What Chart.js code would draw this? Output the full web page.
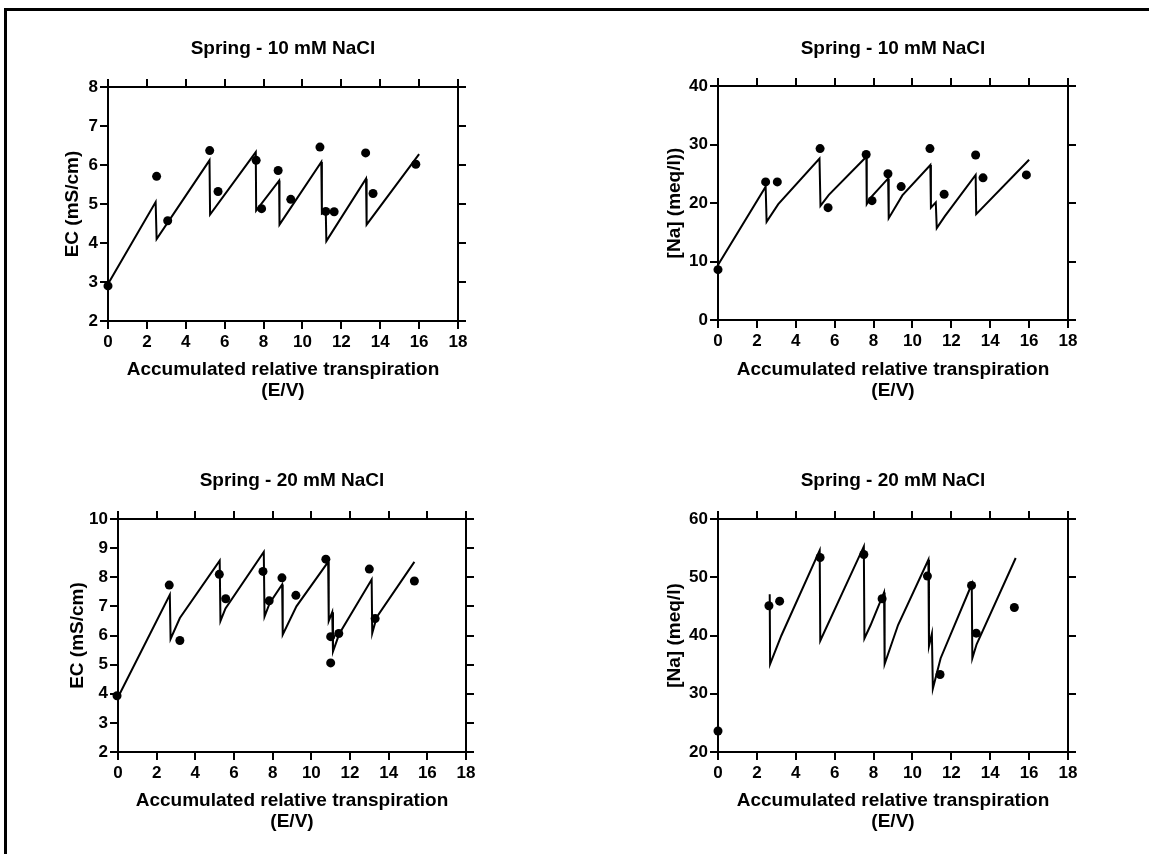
<!DOCTYPE html>
<html>
<head>
<meta charset="utf-8">
<script src="https://cdn.jsdelivr.net/npm/chart.js@4.4.1/dist/chart.umd.min.js"></script>
<style>
  html,body{margin:0;padding:0;background:#fff;}
  body{width:1149px;height:854px;position:relative;overflow:hidden;}
  .frame{position:absolute;left:4px;top:8px;right:0;bottom:0;border-top:3px solid #000;border-left:3px solid #000;}
  .panel{position:absolute;width:574px;height:427px;}
</style>
</head>
<body>
<div class="frame"></div>
<div class="panel" style="left:0;top:0"><canvas id="ec10"></canvas></div>
<div class="panel" style="left:575px;top:0"><canvas id="na10"></canvas></div>
<div class="panel" style="left:0;top:427px"><canvas id="ec20"></canvas></div>
<div class="panel" style="left:575px;top:427px"><canvas id="na20"></canvas></div>
<script>
// tick values
const xTicks = [0, 2, 4, 6, 8, 10, 12, 14, 16, 18];
const ecTicks10 = [2, 3, 4, 5, 6, 7, 8];
const naTicks10 = [0, 10, 20, 30, 40];
const ecTicks20 = [2, 3, 4, 5, 6, 7, 8, 9, 10];
const naTicks20 = [20, 30, 40, 50, 60];

// Spring - 10 mM NaCl : EC
const ec10LineX = [0, 2.45, 2.5, 5.22, 5.25, 7.6, 7.62, 8.8, 8.82, 10.97, 11.0, 11.2, 11.23, 13.27, 13.3, 16.0];
const ec10LineY = [2.95, 5.05, 4.1, 6.12, 4.73, 6.33, 4.83, 5.6, 4.47, 6.08, 4.75, 4.8, 4.05, 5.65, 4.47, 6.28];
const ec10PtsX = [0, 2.5, 3.07, 5.23, 5.66, 7.62, 7.9, 8.75, 9.4, 10.9, 11.2, 11.63, 13.25, 13.63, 15.83];
const ec10PtsY = [2.9, 5.71, 4.57, 6.37, 5.32, 6.12, 4.88, 5.86, 5.12, 6.46, 4.81, 4.8, 6.31, 5.27, 6.02];

// Spring - 10 mM NaCl : [Na]
const na10LineX = [0, 2.45, 2.5, 3.1, 5.22, 5.27, 5.7, 7.63, 7.65, 7.9, 8.75, 8.78, 9.48, 10.92, 10.95, 11.2, 11.25, 11.66, 13.25, 13.28, 16.0];
const na10LineY = [9.4, 22.8, 16.8, 19.8, 27.6, 19.5, 21.4, 27.9, 19.8, 21.1, 24.2, 17.4, 21.3, 26.5, 19.2, 20.1, 15.7, 17.7, 24.8, 18.1, 27.4];
const na10PtsX = [0, 2.45, 3.05, 5.25, 5.66, 7.62, 7.92, 8.74, 9.42, 10.9, 11.63, 13.25, 13.63, 15.86];
const na10PtsY = [8.6, 23.6, 23.6, 29.3, 19.2, 28.3, 20.4, 25.0, 22.8, 29.3, 21.5, 28.2, 24.3, 24.8];

// Spring - 20 mM NaCl : EC
const ec20LineX = [0, 2.68, 2.72, 3.2, 5.26, 5.3, 5.56, 7.54, 7.58, 7.85, 8.49, 8.52, 9.23, 10.87, 10.9, 11.08, 11.12, 11.44, 13.12, 13.15, 13.38, 15.33];
const ec20LineY = [3.88, 7.4, 5.88, 6.6, 8.57, 6.5, 6.93, 8.87, 6.65, 7.12, 7.75, 6.03, 7.0, 8.53, 6.5, 6.8, 5.45, 6.05, 7.92, 6.08, 6.63, 8.53];
const ec20PtsX = [-0.05, 2.65, 3.2, 5.24, 5.57, 7.5, 7.82, 8.48, 9.2, 10.75, 11.0, 11.0, 11.42, 13.0, 13.3, 15.33];
const ec20PtsY = [3.93, 7.73, 5.83, 8.1, 7.26, 8.2, 7.19, 7.98, 7.38, 8.62, 5.96, 5.06, 6.07, 8.28, 6.58, 7.87];

// Spring - 20 mM NaCl : [Na]
const na20LineX = [2.66, 2.68, 3.26, 5.23, 5.26, 7.5, 7.53, 7.85, 8.54, 8.57, 9.26, 10.82, 10.85, 11.0, 11.05, 11.45, 13.05, 13.08, 13.3, 15.31];
const na20LineY = [47.1, 35.1, 40.0, 54.6, 39.1, 55.3, 39.5, 41.8, 47.4, 35.1, 41.8, 53.0, 38.2, 40.3, 30.9, 36.1, 48.8, 36.1, 38.5, 53.3];
const na20PtsX = [0, 2.62, 3.17, 5.25, 7.5, 8.44, 10.77, 11.42, 13.04, 13.28, 15.24];
const na20PtsY = [23.6, 45.1, 45.9, 53.4, 53.9, 46.3, 50.2, 33.3, 48.6, 40.4, 44.8];

Chart.defaults.font.family = "'Liberation Sans', Arial, sans-serif";
Chart.defaults.color = '#000';

const xy = (xs, ys) => xs.map((x, i) => ({x, y: ys[i]}));

// boxed axis: outward ticks on all four sides, labels only left/bottom
function frameAxis(position, ticks, extra){
  const first = ticks[0], last = ticks[ticks.length - 1];
  return Object.assign({
    type: 'linear', position, min: first, max: last,
    afterBuildTicks: s => { s.ticks = ticks.map(v => ({value: v})); },
    grid: {drawOnChartArea: false, drawTicks: true, tickLength: 8, color: '#000', lineWidth: 2},
    border: {display: true, color: '#000', width: 2},
    ticks: {display: false}
  }, extra);
}

function makePanel(id, title, yTitle, yTicks, line, pts, g){
  new Chart(document.getElementById(id), {
    type: 'scatter',
    data: {
      datasets: [
        {data: line, showLine: true, borderColor: '#000', borderWidth: 2, pointRadius: 0, tension: 0, fill: false, clip: false},
        {data: pts, showLine: false, pointRadius: 4.5, pointBackgroundColor: '#000', pointBorderWidth: 0, clip: false}
      ]
    },
    options: {
      responsive: true, maintainAspectRatio: false, animation: false,
      layout: {padding: {left: 0, top: 0, right: g.pr, bottom: 0}},
      plugins: {
        legend: {display: false}, tooltip: {enabled: false},
        title: {display: true, text: title, fullSize: false, color: '#000',
                font: {size: 19, weight: 'bold', lineHeight: 1.2},
                padding: {top: g.tt, bottom: g.tb}}
      },
      scales: {
        x: frameAxis('bottom', xTicks, {
          ticks: {display: true, color: '#000', font: {size: 17, weight: 'bold'}, padding: 3, maxRotation: 0, autoSkip: false},
          title: {display: true, text: ['Accumulated relative transpiration', '(E/V)'], color: '#000',
                  font: {size: 19, weight: 'bold', lineHeight: 1.1}, padding: {top: 0, bottom: g.xtp}},
          afterFit: s => { s.height = g.xh; }
        }),
        x2: frameAxis('top', xTicks, {afterFit: s => { s.height = 8; }}),
        y: frameAxis('left', yTicks, {
          ticks: {display: true, color: '#000', font: {size: 17, weight: 'bold'}, padding: 2},
          title: {display: true, text: yTitle, color: '#000',
                  font: {size: 19, weight: 'bold', lineHeight: 1.2}, padding: {top: g.ytp, bottom: 0}},
          afterFit: s => { s.width = g.yw; }
        }),
        y2: frameAxis('right', yTicks, {afterFit: s => { s.width = 8; }})
      }
    }
  });
}

makePanel('ec10', 'Spring - 10 mM NaCl', 'EC (mS/cm)', ecTicks10,
  xy(ec10LineX, ec10LineY), xy(ec10PtsX, ec10PtsY),
  {yw: 108, pr: 108, tt: 37.6, tb: 18.6, ytp: 61.6, xh: 106, xtp: 25.65});
makePanel('na10', 'Spring - 10 mM NaCl', '[Na] (meq/l))', naTicks10,
  xy(na10LineX, na10LineY), xy(na10PtsX, na10PtsY),
  {yw: 143, pr: 73, tt: 37.6, tb: 17.6, ytp: 88.6, xh: 107, xtp: 25.65});
makePanel('ec20', 'Spring - 20 mM NaCl', 'EC (mS/cm)', ecTicks20,
  xy(ec20LineX, ec20LineY), xy(ec20PtsX, ec20PtsY),
  {yw: 118, pr: 100, tt: 42.6, tb: 18.6, ytp: 66.6, xh: 102, xtp: 21.65});
makePanel('na20', 'Spring - 20 mM NaCl', '[Na] (meq/l)', naTicks20,
  xy(na20LineX, na20LineY), xy(na20PtsX, na20PtsY),
  {yw: 143, pr: 73, tt: 42.6, tb: 18.6, ytp: 88.6, xh: 102, xtp: 21.65});
</script>
</body>
</html>
